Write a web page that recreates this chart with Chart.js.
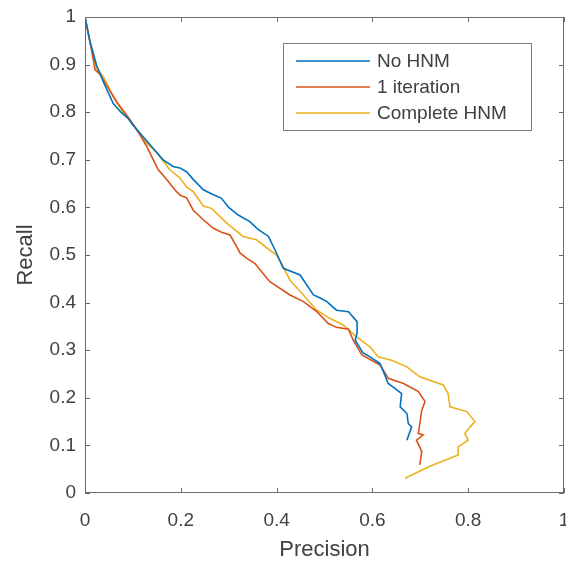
<!DOCTYPE html>
<html>
<head>
<meta charset="utf-8">
<script src="https://cdn.jsdelivr.net/npm/chart.js@4.4.1/dist/chart.umd.min.js"></script>
<style>
  html, body { margin: 0; padding: 0; background: #fff; }
</style>
</head>
<body>
<canvas id="prChart" width="566" height="563"></canvas>
<script>
// series names
const seriesNames = ["No HNM", "1 iteration", "Complete HNM"];
const seriesColors = ["#0072BD", "#D95319", "#EDB120"];

// No HNM
const noHnmPrecision = [0, 0.01, 0.024, 0.04, 0.059, 0.075, 0.09, 0.1, 0.12, 0.139, 0.163, 0.184, 0.198, 0.212, 0.225, 0.247, 0.265, 0.285, 0.3, 0.32, 0.344, 0.36, 0.383, 0.397, 0.414, 0.449, 0.477, 0.49, 0.505, 0.525, 0.55, 0.568, 0.568, 0.564, 0.58, 0.595, 0.616, 0.623, 0.633, 0.647, 0.661, 0.658, 0.672, 0.675, 0.682, 0.672];
const noHnmRecall    = [1, 0.95, 0.899, 0.86, 0.818, 0.8, 0.787, 0.773, 0.75, 0.728, 0.70, 0.686, 0.683, 0.675, 0.66, 0.637, 0.628, 0.619, 0.6, 0.584, 0.57, 0.555, 0.539, 0.51, 0.472, 0.458, 0.416, 0.41, 0.402, 0.384, 0.381, 0.36, 0.336, 0.321, 0.295, 0.286, 0.272, 0.255, 0.23, 0.22, 0.209, 0.181, 0.167, 0.146, 0.139, 0.111];

// 1 iteration
const oneIterPrecision = [0, 0.012, 0.021, 0.031, 0.045, 0.066, 0.094, 0.115, 0.129, 0.139, 0.153, 0.171, 0.191, 0.2, 0.212, 0.226, 0.247, 0.268, 0.285, 0.303, 0.324, 0.338, 0.355, 0.379, 0.386, 0.428, 0.456, 0.484, 0.508, 0.525, 0.55, 0.56, 0.578, 0.616, 0.633, 0.665, 0.696, 0.71, 0.703, 0.699, 0.696, 0.706, 0.692, 0.703, 0.699];
const oneIterRecall    = [1, 0.94, 0.889, 0.88, 0.857, 0.822, 0.784, 0.752, 0.728, 0.707, 0.679, 0.658, 0.633, 0.625, 0.62, 0.594, 0.574, 0.556, 0.548, 0.542, 0.504, 0.493, 0.482, 0.452, 0.444, 0.416, 0.402, 0.381, 0.356, 0.348, 0.344, 0.321, 0.29, 0.269, 0.241, 0.23, 0.213, 0.192, 0.174, 0.146, 0.125, 0.122, 0.111, 0.087, 0.059];

// Complete HNM
const completePrecision = [0, 0.012, 0.024, 0.038, 0.059, 0.08, 0.104, 0.129, 0.15, 0.177, 0.198, 0.212, 0.226, 0.247, 0.264, 0.296, 0.33, 0.358, 0.386, 0.40, 0.414, 0.428, 0.456, 0.484, 0.511, 0.539, 0.567, 0.595, 0.612, 0.64, 0.672, 0.699, 0.748, 0.758, 0.762, 0.797, 0.814, 0.804, 0.793, 0.80, 0.779, 0.779, 0.72, 0.668];
const completeRecall    = [1, 0.94, 0.892, 0.875, 0.833, 0.798, 0.77, 0.735, 0.715, 0.679, 0.662, 0.643, 0.633, 0.603, 0.598, 0.567, 0.539, 0.532, 0.51, 0.50, 0.475, 0.447, 0.416, 0.384, 0.367, 0.353, 0.328, 0.307, 0.286, 0.279, 0.265, 0.244, 0.227, 0.209, 0.181, 0.171, 0.15, 0.139, 0.125, 0.111, 0.097, 0.08, 0.056, 0.031];

const xTicks = [0, 0.2, 0.4, 0.6, 0.8, 1];
const yTicks = [0, 0.1, 0.2, 0.3, 0.4, 0.5, 0.6, 0.7, 0.8, 0.9, 1];

const toPoints = (xs, ys) => xs.map((x, i) => ({ x: x, y: ys[i] }));

const allSeries = [
  toPoints(noHnmPrecision, noHnmRecall),
  toPoints(oneIterPrecision, oneIterRecall),
  toPoints(completePrecision, completeRecall),
];

const FONT = "'Liberation Sans', Arial, Helvetica, sans-serif";
const AXIS_COLOR = "#6b6b6b";
const TEXT_COLOR = "#404040";

// box around axes plus inward tick marks (matlab look)
const boxPlugin = {
  id: "matlabBox",
  afterDatasetsDraw(chart) {
    const { ctx, chartArea: a, scales } = chart;
    ctx.save();
    ctx.strokeStyle = AXIS_COLOR;
    ctx.lineWidth = 1;
    ctx.strokeRect(a.left + 0.5, a.top + 0.5, a.right - a.left - 1, a.bottom - a.top - 1);
    const len = 5;
    ctx.beginPath();
    scales.x.ticks.forEach(t => {
      const px = Math.round(scales.x.getPixelForValue(t.value)) + 0.5;
      ctx.moveTo(px, a.bottom); ctx.lineTo(px, a.bottom - len);
      ctx.moveTo(px, a.top); ctx.lineTo(px, a.top + len);
    });
    scales.y.ticks.forEach(t => {
      const py = Math.round(scales.y.getPixelForValue(t.value)) + 0.5;
      ctx.moveTo(a.left, py); ctx.lineTo(a.left + len, py);
      ctx.moveTo(a.right, py); ctx.lineTo(a.right - len, py);
    });
    ctx.stroke();
    ctx.restore();
  }
};

// legend box in the upper right of the axes
const legendPlugin = {
  id: "insideLegend",
  afterDraw(chart) {
    const { ctx } = chart;
    const boxX = 283, boxY = 43, boxW = 248, boxH = 87;
    ctx.save();
    ctx.fillStyle = "#fff";
    ctx.fillRect(boxX, boxY, boxW, boxH);
    ctx.strokeStyle = "#7a7a7a";
    ctx.lineWidth = 1;
    ctx.strokeRect(boxX + 0.5, boxY + 0.5, boxW, boxH);
    ctx.font = "19px " + FONT;
    ctx.textBaseline = "middle";
    chart.data.datasets.forEach((ds, i) => {
      const y = boxY + 18 + i * 26;
      ctx.strokeStyle = ds.borderColor;
      ctx.lineWidth = 1.5;
      ctx.beginPath();
      ctx.moveTo(boxX + 13, y);
      ctx.lineTo(boxX + 87, y);
      ctx.stroke();
      ctx.fillStyle = TEXT_COLOR;
      ctx.fillText(ds.label, boxX + 94, y + 1);
    });
    ctx.restore();
  }
};

const ctx = document.getElementById("prChart").getContext("2d");

new Chart(ctx, {
  type: "scatter",
  data: {
    datasets: allSeries.map((pts, i) => ({
      label: seriesNames[i],
      data: pts,
      showLine: true,
      borderColor: seriesColors[i],
      backgroundColor: seriesColors[i],
      borderWidth: 1.6,
      pointRadius: 0,
      tension: 0,
    })),
  },
  options: {
    responsive: false,
    animation: false,
    devicePixelRatio: 1,
    layout: { padding: { top: 17, right: 2, left: 0, bottom: 0 } },
    plugins: {
      legend: { display: false },
      tooltip: { enabled: false },
    },
    scales: {
      x: {
        type: "linear",
        min: 0,
        max: 1,
        afterBuildTicks: s => { s.ticks = xTicks.map(v => ({ value: v })); },
        afterFit: s => { s.height = 70; s.paddingLeft = 0; s.paddingRight = 0; },
        grid: { display: false, drawTicks: false },
        border: { display: false },
        ticks: {
          padding: 16,
          color: TEXT_COLOR,
          font: { family: FONT, size: 19 },
          maxRotation: 0,
          callback: v => String(v),
        },
        title: {
          display: true,
          text: "Precision",
          color: TEXT_COLOR,
          font: { family: FONT, size: 22 },
          padding: { top: 0, bottom: 0 },
        },
      },
      y: {
        type: "linear",
        min: 0,
        max: 1,
        afterBuildTicks: s => { s.ticks = yTicks.map(v => ({ value: v })); },
        afterFit: s => { s.width = 85; s.paddingTop = 0; s.paddingBottom = 0; },
        grid: { display: false, drawTicks: false },
        border: { display: false },
        ticks: {
          padding: 9,
          color: TEXT_COLOR,
          font: { family: FONT, size: 19 },
          callback: v => String(v),
        },
        title: {
          display: true,
          text: "Recall",
          color: TEXT_COLOR,
          font: { family: FONT, size: 22 },
          padding: { top: 13, bottom: 0 },
        },
      },
    },
  },
  plugins: [boxPlugin, legendPlugin],
});
</script>
</body>
</html>
